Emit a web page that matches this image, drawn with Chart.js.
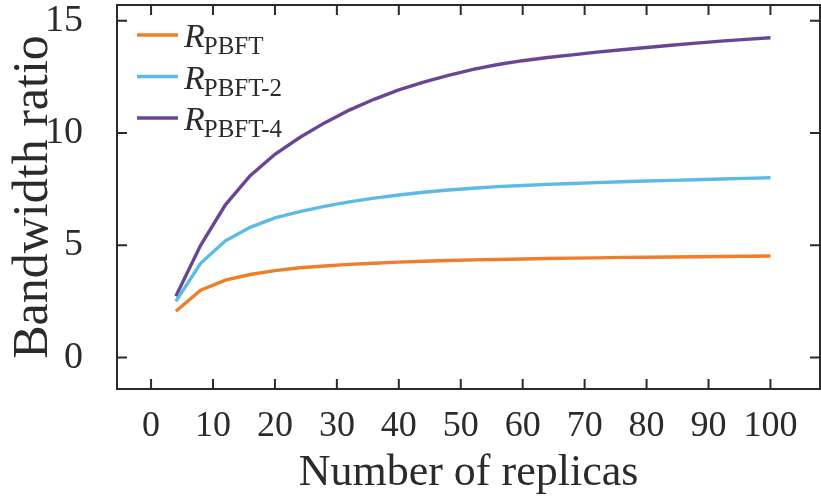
<!DOCTYPE html>
<html>
<head>
<meta charset="utf-8">
<script src="https://cdn.jsdelivr.net/npm/chart.js@4.4.0/dist/chart.umd.min.js"></script>
<style>
  html, body { margin: 0; padding: 0; background: #fff; }
  #wrap { width: 821px; height: 500px; }
</style>
</head>
<body>
<div id="wrap"><canvas id="chart" width="821" height="500"></canvas></div>
<script>
// number of replicas
var replicas = [4, 8, 12, 16, 20, 24, 28, 32, 36, 40, 44, 48, 52, 56, 60, 64, 68, 72, 76, 80, 84, 88, 92, 96, 100];

// bandwidth ratio
var rPbft  = [2.06, 3.0, 3.45, 3.7, 3.87, 4.0, 4.08, 4.15, 4.2, 4.25, 4.29, 4.32, 4.35, 4.37, 4.39, 4.41, 4.43, 4.44, 4.46, 4.47, 4.48, 4.49, 4.5, 4.51, 4.52];
var rPbft2 = [2.5, 4.2, 5.2, 5.8, 6.22, 6.5, 6.73, 6.93, 7.1, 7.24, 7.36, 7.46, 7.54, 7.61, 7.66, 7.71, 7.75, 7.79, 7.83, 7.86, 7.89, 7.92, 7.95, 7.98, 8.01];
var rPbft4 = [2.73, 5.0, 6.8, 8.1, 9.05, 9.8, 10.45, 11.02, 11.5, 11.92, 12.27, 12.57, 12.83, 13.05, 13.22, 13.36, 13.48, 13.6, 13.71, 13.81, 13.91, 14.0, 14.09, 14.17, 14.24];

var subscripts = ['PBFT', 'PBFT-2', 'PBFT-4'];
var colors = ['#ef7d2c', '#5bbbe4', '#6a4594'];

var serif = '"Liberation Serif", "DejaVu Serif", serif';
var ink = '#2b2b2b';

function points(ys) {
	return replicas.map(function(n, i) { return {x: n, y: ys[i]}; });
}

var series = [rPbft, rPbft2, rPbft4];
var datasets = series.map(function(ys, i) {
	return {
		label: 'R' + subscripts[i],
		data: points(ys),
		borderColor: colors[i],
		backgroundColor: colors[i],
		borderWidth: 3.4,
		pointRadius: 0,
		tension: 0,
		fill: false
	};
});

// box round the plot, with inward ticks on all four sides
var frame = {
	id: 'frame',
	afterDatasetsDraw: function(chart) {
		var ctx = chart.ctx, a = chart.chartArea;
		var xs = chart.scales.x, ys = chart.scales.y;
		var len = 10;
		ctx.save();
		ctx.strokeStyle = ink;
		ctx.lineWidth = 2;
		ctx.strokeRect(a.left, a.top, a.right - a.left, a.bottom - a.top);
		ctx.beginPath();
		xs.ticks.forEach(function(t) {
			var px = xs.getPixelForValue(t.value);
			ctx.moveTo(px, a.bottom); ctx.lineTo(px, a.bottom - len);
			ctx.moveTo(px, a.top); ctx.lineTo(px, a.top + len);
		});
		ys.ticks.forEach(function(t) {
			var py = ys.getPixelForValue(t.value);
			ctx.moveTo(a.left, py); ctx.lineTo(a.left + len, py);
			ctx.moveTo(a.right, py); ctx.lineTo(a.right - len, py);
		});
		ctx.stroke();
		ctx.restore();
	}
};

// legend with italic R and a subscript
var subLegend = {
	id: 'subLegend',
	afterDraw: function(chart) {
		var ctx = chart.ctx, a = chart.chartArea;
		ctx.save();
		chart.data.datasets.forEach(function(ds, i) {
			var y = a.top + 30 + i * 41.5;
			ctx.strokeStyle = ds.borderColor;
			ctx.lineWidth = 3.4;
			ctx.beginPath();
			ctx.moveTo(a.left + 20, y);
			ctx.lineTo(a.left + 61, y);
			ctx.stroke();
			ctx.fillStyle = ink;
			ctx.textBaseline = 'alphabetic';
			ctx.font = 'italic 34px ' + serif;
			ctx.fillText('R', a.left + 67, y + 12);
			var w = ctx.measureText('R').width;
			ctx.font = '25px ' + serif;
			ctx.fillText(subscripts[i], a.left + 67 + w - 1, y + 19);
		});
		ctx.restore();
	}
};

new Chart(document.getElementById('chart'), {
	type: 'line',
	data: {datasets: datasets},
	plugins: [frame, subLegend],
	options: {
		responsive: false,
		animation: false,
		layout: {padding: {top: 5, right: 1, left: 0, bottom: 0}},
		plugins: {
			legend: {display: false},
			tooltip: {enabled: false}
		},
		scales: {
			x: {
				type: 'linear',
				min: -5.5,
				max: 108,
				border: {display: false},
				grid: {display: false},
				ticks: {
					stepSize: 10,
					includeBounds: false,
					maxRotation: 0,
					autoSkip: false,
					padding: 8,
					color: ink,
					font: {family: serif, size: 36}
				},
				title: {
					display: true,
					text: 'Number of replicas',
					color: ink,
					padding: {top: 0, bottom: 0},
					font: {family: serif, size: 44}
				},
				afterFit: function(s) {
					s.height = 111;
					s.paddingLeft = 0;
					s.paddingRight = 0;
				}
			},
			y: {
				min: -1.4,
				max: 15.7,
				border: {display: false},
				grid: {display: false},
				ticks: {
					stepSize: 5,
					includeBounds: false,
					padding: 26,
					color: ink,
					font: {family: serif, size: 38}
				},
				title: {
					display: true,
					text: 'Bandwidth ratio',
					color: ink,
					padding: {top: 4, bottom: 0},
					font: {family: serif, size: 50}
				},
				afterFit: function(s) {
					s.width = 117;
					s.paddingTop = 0;
					s.paddingBottom = 0;
				}
			}
		}
	}
});
</script>
</body>
</html>
